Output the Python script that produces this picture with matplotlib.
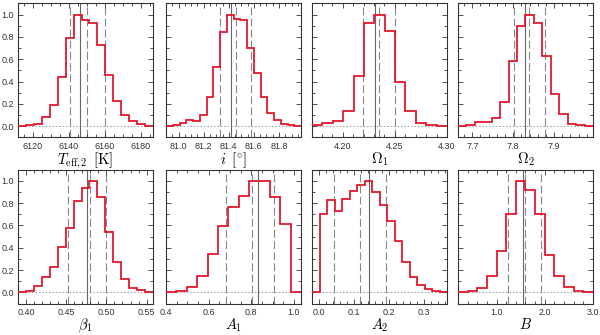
import numpy as np
import matplotlib.pyplot as plt
from matplotlib.ticker import MultipleLocator, FormatStrFormatter

plt.rcParams['mathtext.fontset'] = 'cm'
plt.rcParams['font.family'] = ['Liberation Sans', 'DejaVu Sans']

# histogram data: x range of the bins, normalised heights, best value (solid) and quantiles (dashed)
teff_range = [6111.7, 6186.7]
teff_hist = [0.005, 0.01, 0.02, 0.08, 0.19, 0.44, 0.79, 1.0, 0.95, 0.92, 0.73, 0.46, 0.23, 0.10, 0.05, 0.02, 0.003]
teff_best = 6146.1
teff_q = [6140.5, 6150.1, 6160.0]

incl_range = [80.90, 81.975]
incl_hist = [0.005, 0.015, 0.03, 0.055, 0.045, 0.10, 0.26, 0.53, 0.84, 1.0, 0.96, 0.95, 0.70, 0.48, 0.26, 0.12, 0.055, 0.02, 0.01, 0.005]
incl_best = 81.42
incl_q = [81.33, 81.46, 81.58]

om1_range = [4.1706, 4.30]
om1_hist = [0.01, 0.025, 0.05, 0.14, 0.45, 0.92, 1.0, 0.85, 0.40, 0.14, 0.025, 0.01, 0.005]
om1_best = 4.2312
om1_q = [4.2199, 4.2350, 4.2497]

om2_range = [7.665, 7.995]
om2_hist = [0.005, 0.01, 0.035, 0.04, 0.07, 0.22, 0.58, 0.90, 1.0, 0.92, 0.63, 0.29, 0.11, 0.02, 0.01, 0.003]
om2_best = 7.828
om2_q = [7.801, 7.838, 7.877]

beta_range = [0.39, 0.558]
beta_hist = [0.005, 0.015, 0.055, 0.14, 0.225, 0.405, 0.58, 0.815, 0.935, 1.0, 0.855, 0.54, 0.27, 0.12, 0.04, 0.02, 0.003]
beta_best = 0.476
beta_q = [0.452, 0.479, 0.500]

a1_range = [0.40, 1.033]
a1_hist = [0.002, 0.008, 0.045, 0.15, 0.34, 0.59, 0.765, 0.865, 1.0, 1.0, 0.85, 0.615, 0.0]
a1_best = 0.83
a1_q = [0.682, 0.805, 0.908]

a2_range = [-0.019, 0.367]
a2_hist = [0.0, 0.70, 0.83, 0.73, 0.84, 0.905, 0.965, 1.0, 0.90, 0.785, 0.64, 0.46, 0.275, 0.14, 0.07, 0.03, 0.01, 0.003]
a2_best = 0.143
a2_q = [0.043, 0.119, 0.192]

b_range = [0.2, 3.0]
b_hist = [0.003, 0.01, 0.04, 0.15, 0.37, 0.70, 1.0, 0.92, 0.70, 0.33, 0.15, 0.05, 0.015, 0.005]
b_best = 1.542
b_q = [1.243, 1.59, 1.924]

labels = [r'$T_{\rm eff,2}\ \,[{\rm K}]$', r'$i\ \,[^{\circ}]$', r'$\Omega_1$', r'$\Omega_2$',
          r'$\beta_1$', r'$A_1$', r'$A_2$', r'$B$']
panels = [
    (teff_range, teff_hist, teff_best, teff_q, 20, 5, '%d'),
    (incl_range, incl_hist, incl_best, incl_q, 0.2, 0.05, '%.1f'),
    (om1_range, om1_hist, om1_best, om1_q, 0.05, 0.01, '%.2f'),
    (om2_range, om2_hist, om2_best, om2_q, 0.1, 0.02, '%.1f'),
    (beta_range, beta_hist, beta_best, beta_q, 0.05, 0.01, '%.2f'),
    (a1_range, a1_hist, a1_best, a1_q, 0.2, 0.05, '%.1f'),
    (a2_range, a2_hist, a2_best, a2_q, 0.1, 0.02, '%.1f'),
    (b_range, b_hist, b_best, b_q, 1.0, 0.2, '%.1f'),
]

fig = plt.figure(figsize=(6, 3.35), dpi=100)
lefts = [0.030, 0.2767, 0.520, 0.7633]
bottoms = [0.590, 0.094]
w, h = 0.225, 0.400

for k, (rng, hist, best, q, major, minor, fmt) in enumerate(panels):
    ax = fig.add_axes([lefts[k % 4], bottoms[k // 4], w, h])
    edges = np.linspace(rng[0], rng[1], len(hist) + 1)
    ax.axhline(0, color='#999999', lw=0.7, ls=(0, (1.5, 2)), zorder=1)
    for v in q:
        ax.axvline(v, color='#888888', lw=0.8, ls=(0, (7, 3)), zorder=1)
    ax.axvline(best, color='#666666', lw=0.8, zorder=1)
    ax.stairs(hist, edges, color='#e3182d', lw=1.3, zorder=3, baseline=None)
    ax.set_xlim(rng[0], rng[1])
    ax.set_ylim(-0.1, 1.1)
    ax.xaxis.set_major_locator(MultipleLocator(major))
    ax.xaxis.set_minor_locator(MultipleLocator(minor))
    ax.xaxis.set_major_formatter(FormatStrFormatter(fmt))
    ax.yaxis.set_major_locator(MultipleLocator(0.2))
    ax.yaxis.set_minor_locator(MultipleLocator(0.1))
    ax.yaxis.set_major_formatter(FormatStrFormatter('%.1f'))
    ax.tick_params(which='both', direction='in', top=True, right=True,
                   labelsize=6.5, colors='#333333', width=0.6, pad=3)
    ax.tick_params(which='major', length=3.5)
    ax.tick_params(which='minor', length=2)
    if k % 4 != 0:
        ax.tick_params(labelleft=False)
    for s in ax.spines.values():
        s.set_linewidth(0.8)
        s.set_color('#333333')
    ax.set_xlabel(labels[k], fontsize=10.5, labelpad=0)

fig.savefig('out.png', dpi=100)
